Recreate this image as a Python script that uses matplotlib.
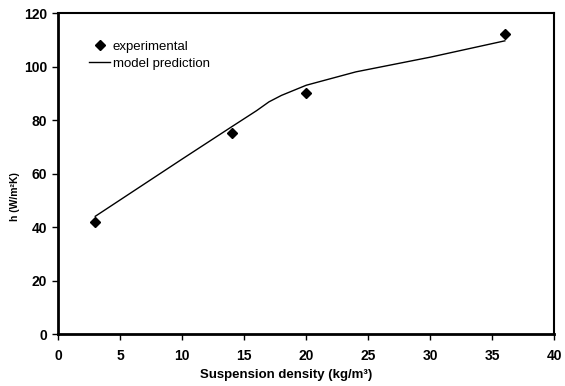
import matplotlib
matplotlib.use('Agg')
import matplotlib.pyplot as plt

### Data

# measured heat transfer coefficient
exp_density = [3, 14, 20, 36]
exp_h = [42, 75, 90, 112]

# model curve
model_density = [3, 10, 14, 16, 17, 18, 20, 24, 30, 36]
model_h = [44, 65.4, 77.5, 83.5, 86.8, 89.2, 93, 98, 103.5, 109.6]

x_ticks = [0, 5, 10, 15, 20, 25, 30, 35, 40]
y_ticks = [0, 20, 40, 60, 80, 100, 120]

plt.rcParams['font.family'] = ['Liberation Sans', 'DejaVu Sans']

### Figure

fig = plt.figure(figsize=(5.65, 3.86), dpi=100)
ax = fig.add_axes([0.1027, 0.1347, 0.8787, 0.8316])

ax.plot(exp_density, exp_h, 'D', color='black', markersize=4.8, mec='black',
        label='experimental', zorder=3)
ax.plot(model_density, model_h, '-', color='black', linewidth=1.0,
        label='model prediction', zorder=2)

ax.set_xlim(0, 40)
ax.set_ylim(0, 120)
ax.set_xticks(x_ticks)
ax.set_yticks(y_ticks)
ax.tick_params(direction='out', length=4, width=1, labelsize=10)
ax.tick_params('x', pad=7)
ax.tick_params('y', pad=4)
for lab in ax.get_xticklabels() + ax.get_yticklabels():
    lab.set_fontweight('bold')

for side in ['left', 'bottom']:
    ax.spines[side].set_linewidth(2)
for side in ['top', 'right']:
    ax.spines[side].set_linewidth(1.5)

# axis labels
fig.text(286 / 565, 1 - 375 / 386, 'Suspension density (kg/m³)',
         ha='center', va='center', fontsize=9.5, fontweight='bold')
fig.text(15 / 565, 1 - 197 / 386, 'h (W/m²K)', rotation=90,
         ha='center', va='center', fontsize=7.5, fontweight='bold')

leg = ax.legend(loc='upper left', bbox_to_anchor=(0.052, 0.93), frameon=False,
                fontsize=9.5, handlelength=1.6, handletextpad=0.2,
                labelspacing=0.35, borderaxespad=0)

fig.savefig('out.png', dpi=100)
plt.close(fig)
